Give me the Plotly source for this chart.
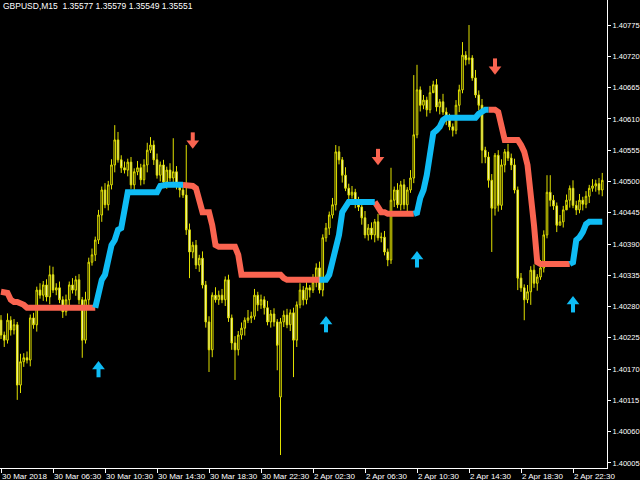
import plotly.graph_objects as go

bar_index = list(range(186))

open_ = [
1.40256,1.40230,1.40221,1.40256,1.40239,1.40248,1.40142,1.40183,1.40190,1.40186,
1.40260,1.40248,1.40309,1.40300,1.40318,1.40297,1.40336,1.40309,1.40313,1.40292,
1.40271,1.40292,1.40318,1.40309,1.40327,1.40292,1.40221,1.40292,1.40358,1.40371,
1.40397,1.40441,1.40485,1.40459,1.40494,1.40529,1.40573,1.40538,1.40524,1.40520,
1.40534,1.40494,1.40517,1.40524,1.40503,1.40529,1.40555,1.40564,1.40538,1.40511,
1.40529,1.40499,1.40520,1.40506,1.40517,1.40494,1.40485,1.40476,1.40415,1.40376,
1.40388,1.40353,1.40365,1.40318,1.40253,1.40204,1.40300,1.40292,1.40300,1.40292,
1.40327,1.40260,1.40216,1.40204,1.40230,1.40242,1.40256,1.40260,1.40263,1.40300,
1.40283,1.40292,1.40278,1.40253,1.40267,1.40253,1.40121,1.40253,1.40265,1.40248,
1.40269,1.40221,1.40283,1.40309,1.40292,1.40313,1.40309,1.40323,1.40348,1.40309,
1.40401,1.40418,1.40441,1.40459,1.40552,1.40538,1.40511,1.40488,1.40476,1.40481,
1.40464,1.40455,1.40436,1.40406,1.40418,1.40406,1.40429,1.40401,1.40402,1.40376,
1.40362,1.40467,1.40485,1.40459,1.40494,1.40459,1.40485,1.40506,1.40582,1.40661,
1.40634,1.40643,1.40626,1.40656,1.40670,1.40631,1.40640,1.40622,1.40608,1.40596,
1.40590,1.40634,1.40661,1.40722,1.40714,1.40717,1.40682,1.40652,1.40634,1.40555,
1.40543,1.40502,1.40453,1.40546,1.40458,1.40529,1.40552,1.40541,1.40529,1.40485,
1.40330,1.40313,1.40292,1.40306,1.40344,1.40321,1.40332,1.40348,1.40406,1.40481,
1.40467,1.40457,1.40423,1.40429,1.40450,1.40467,1.40488,1.40458,1.40450,1.40467,
1.40460,1.40474,1.40488,1.40492,1.40496,1.40485]

close = [
1.40230,1.40221,1.40256,1.40239,1.40248,1.40142,1.40183,1.40190,1.40186,1.40260,
1.40248,1.40309,1.40300,1.40318,1.40297,1.40336,1.40309,1.40313,1.40292,1.40271,
1.40292,1.40318,1.40309,1.40327,1.40292,1.40221,1.40292,1.40358,1.40371,1.40397,
1.40441,1.40485,1.40459,1.40494,1.40529,1.40573,1.40538,1.40524,1.40520,1.40534,
1.40494,1.40517,1.40524,1.40503,1.40529,1.40555,1.40564,1.40538,1.40511,1.40529,
1.40499,1.40520,1.40506,1.40517,1.40494,1.40485,1.40476,1.40415,1.40376,1.40388,
1.40353,1.40365,1.40318,1.40253,1.40204,1.40300,1.40292,1.40300,1.40292,1.40327,
1.40260,1.40216,1.40204,1.40230,1.40242,1.40256,1.40260,1.40263,1.40300,1.40283,
1.40292,1.40278,1.40253,1.40267,1.40253,1.40212,1.40253,1.40265,1.40248,1.40269,
1.40221,1.40283,1.40309,1.40292,1.40313,1.40309,1.40323,1.40348,1.40309,1.40401,
1.40418,1.40441,1.40459,1.40552,1.40538,1.40511,1.40488,1.40476,1.40481,1.40464,
1.40455,1.40436,1.40406,1.40418,1.40406,1.40429,1.40401,1.40402,1.40376,1.40362,
1.40467,1.40485,1.40459,1.40494,1.40459,1.40485,1.40506,1.40582,1.40661,1.40634,
1.40643,1.40626,1.40656,1.40670,1.40631,1.40640,1.40622,1.40608,1.40596,1.40590,
1.40634,1.40661,1.40722,1.40714,1.40717,1.40682,1.40652,1.40634,1.40555,1.40543,
1.40502,1.40453,1.40546,1.40458,1.40529,1.40552,1.40541,1.40529,1.40485,1.40330,
1.40313,1.40292,1.40306,1.40344,1.40321,1.40332,1.40348,1.40406,1.40481,1.40467,
1.40457,1.40423,1.40429,1.40450,1.40467,1.40488,1.40458,1.40450,1.40467,1.40460,
1.40474,1.40488,1.40492,1.40496,1.40485,1.40502]

high = [
1.40265,1.40236,1.40268,1.40263,1.40258,1.40253,1.40197,1.40198,1.40201,1.40266,
1.40269,1.40315,1.40321,1.40325,1.40328,1.40352,1.40350,1.40321,1.40324,1.40298,
1.40301,1.40324,1.40330,1.40334,1.40337,1.40297,1.40306,1.40366,1.40382,1.40403,
1.40450,1.40491,1.40497,1.40501,1.40539,1.40599,1.40587,1.40546,1.40535,1.40540,
1.40543,1.40523,1.40536,1.40531,1.40539,1.40568,1.40578,1.40572,1.40549,1.40535,
1.40538,1.40526,1.40532,1.40576,1.40527,1.40499,1.40499,1.40564,1.40426,1.40394,
1.40397,1.40371,1.40377,1.40325,1.40263,1.40305,1.40314,1.40308,1.40311,1.40333,
1.40336,1.40266,1.40228,1.40237,1.40252,1.40261,1.40274,1.40271,1.40311,1.40306,
1.40301,1.40298,1.40290,1.40274,1.40277,1.40258,1.40260,1.40273,1.40276,1.40275,
1.40278,1.40289,1.40321,1.40316,1.40323,1.40318,1.40337,1.40356,1.40359,1.40407,
1.40427,1.40447,1.40471,1.40564,1.40562,1.40543,1.40525,1.40496,1.40492,1.40487,
1.40473,1.40461,1.40448,1.40425,1.40428,1.40434,1.40443,1.40410,1.40413,1.40382,
1.40524,1.40491,1.40497,1.40501,1.40504,1.40490,1.40520,1.40687,1.40705,1.40667,
1.40652,1.40649,1.40668,1.40677,1.40680,1.40645,1.40654,1.40630,1.40619,1.40602,
1.40643,1.40670,1.40745,1.40729,1.40775,1.40722,1.40696,1.40660,1.40645,1.40561,
1.40552,1.40513,1.40550,1.40555,1.40539,1.40557,1.40566,1.40549,1.40540,1.40491,
1.40339,1.40319,1.40318,1.40351,1.40354,1.40337,1.40362,1.40414,1.40511,1.40511,
1.40476,1.40463,1.40441,1.40457,1.40477,1.40493,1.40502,1.40466,1.40478,1.40473,
1.40483,1.40494,1.40504,1.40503,1.40506,1.40515]

low = [
1.40223,1.40209,1.40215,1.40229,1.40231,1.40116,1.40128,1.40174,1.40180,1.40175,
1.40241,1.40236,1.40294,1.40290,1.40289,1.40284,1.40304,1.40300,1.40286,1.40260,
1.40264,1.40280,1.40303,1.40299,1.40284,1.40190,1.40215,1.40283,1.40352,1.40360,
1.40390,1.40429,1.40453,1.40449,1.40486,1.40516,1.40533,1.40515,1.40514,1.40509,
1.40487,1.40482,1.40511,1.40493,1.40495,1.40516,1.40550,1.40529,1.40505,1.40500,
1.40492,1.40487,1.40500,1.40496,1.40486,1.40472,1.40471,1.40406,1.40330,1.40365,
1.40346,1.40341,1.40312,1.40243,1.40165,1.40191,1.40287,1.40283,1.40286,1.40281,
1.40253,1.40204,1.40151,1.40194,1.40222,1.40229,1.40251,1.40251,1.40257,1.40272,
1.40276,1.40266,1.40247,1.40243,1.40245,1.40168,1.40019,1.40244,1.40242,1.40237,
1.40156,1.40209,1.40277,1.40282,1.40284,1.40296,1.40304,1.40314,1.40303,1.40298,
1.40394,1.40406,1.40435,1.40449,1.40530,1.40498,1.40483,1.40467,1.40470,1.40453,
1.40448,1.40424,1.40400,1.40396,1.40398,1.40393,1.40396,1.40393,1.40370,1.40351,
1.40355,1.40455,1.40453,1.40449,1.40451,1.40446,1.40480,1.40497,1.40576,1.40623,
1.40627,1.40614,1.40620,1.40660,1.40623,1.40618,1.40617,1.40599,1.40590,1.40579,
1.40583,1.40622,1.40655,1.40704,1.40706,1.40677,1.40647,1.40625,1.40532,1.40532,
1.40489,1.40376,1.40440,1.40447,1.40450,1.40516,1.40536,1.40520,1.40479,1.40309,
1.40306,1.40256,1.40286,1.40283,1.40313,1.40308,1.40327,1.40340,1.40400,1.40456,
1.40450,1.40411,1.40423,1.40419,1.40459,1.40454,1.40453,1.40441,1.40444,1.40449,
1.40453,1.40462,1.40482,1.40482,1.40477,1.40474]

indicator = (
    [1.40306, 1.40306, 1.40304, 1.40292, 1.40288, 1.40288, 1.40286, 1.40283]
    + [1.40278] * 22
    + [1.40309, 1.40327, 1.40336, 1.40362, 1.40388, 1.40397, 1.40415, 1.40418, 1.40450]
    + [1.40481] * 10
    + [1.40492]
    + [1.40494] * 9
    + [1.40492, 1.40488, 1.40467]
    + [1.40446] * 3
    + [1.40423, 1.40388]
    + [1.40385] * 6
    + [1.40371]
    + [1.40336] * 13
    + [1.40330]
    + [1.40327] * 13
    + [1.40336, 1.40358, 1.40379, 1.40406, 1.40446, 1.40458]
    + [1.40464] * 9
    + [1.40455, 1.40446, 1.40446]
    + [1.40443] * 9
    + [1.40445, 1.40471, 1.40485, 1.40511, 1.40546, 1.40585, 1.40590, 1.40596, 1.40608]
    + [1.40612] * 10
    + [1.40619, 1.40624]
    + [1.40626] * 4
    + [1.40622, 1.40599]
    + [1.40573] * 5
    + [1.40564, 1.40552, 1.40529, 1.40485, 1.40423, 1.40358]
    + [1.40355] * 10
    + [1.40358, 1.40397, 1.40402, 1.40411, 1.40425]
    + [1.40429] * 5
)

trend_runs = [("dn", 30), ("up", 27), ("dn", 42), ("up", 17),
              ("dn", 12), ("up", 23), ("dn", 25), ("up", 10)]

up_arrow_bar = [30, 100, 128, 176]
up_arrow_tip = [1.40181, 1.40260, 1.40374, 1.40295]
dn_arrow_bar = [59, 116, 152]
dn_arrow_tip = [1.40561, 1.40532, 1.40691]

tick_bars = [0, 16, 32, 48, 64, 80, 96, 112, 128, 144, 160, 176]
tick_labels = ["30 Mar 2018", "30 Mar 06:30", "30 Mar 10:30", "30 Mar 14:30",
               "30 Mar 18:30", "30 Mar 22:30", "2 Apr 02:30", "2 Apr 06:30",
               "2 Apr 10:30", "2 Apr 14:30", "2 Apr 18:30", "2 Apr 22:30"]
price_ticks = [1.40005, 1.40060, 1.40115, 1.40170, 1.40225, 1.40280, 1.40335,
               1.40390, 1.40445, 1.40500, 1.40555, 1.40610, 1.40665, 1.40720, 1.40775]

title_text = "GBPUSD,M15  1.35577 1.35579 1.35549 1.35551"

BLUE = "#0fbcf5"
RED = "#fa6450"
FONT = "Liberation Sans"

Y0, Y1 = 1.399962, 1.40819
PLOT_H = 468
PX = (Y1 - Y0) / PLOT_H  # price per pixel, for marker offsets

trend = []
for name, n in trend_runs:
    trend += [name] * n
N = len(bar_index)

def seg(kind):
    ys = []
    for i in range(N):
        if trend[i] == kind or (i + 1 < N and trend[i + 1] == kind):
            ys.append(indicator[i])
        else:
            ys.append(None)
    return ys

fig = go.Figure()
fig.add_trace(go.Candlestick(
    x=bar_index, open=open_, high=high, low=low, close=close,
    increasing=dict(line=dict(color="#e0e000", width=1), fillcolor="#000000"),
    decreasing=dict(line=dict(color="#e0e000", width=1), fillcolor="#fffff0"),
    whiskerwidth=0, hoverinfo="skip", showlegend=False))

fig.add_trace(go.Scatter(x=bar_index, y=seg("dn"), mode="lines",
                         line=dict(color=RED, width=6), connectgaps=False,
                         hoverinfo="skip", showlegend=False))
fig.add_trace(go.Scatter(x=bar_index, y=seg("up"), mode="lines",
                         line=dict(color=BLUE, width=6), connectgaps=False,
                         hoverinfo="skip", showlegend=False))

# arrows: head (triangle) + stem (short thick vertical line)
fig.add_trace(go.Scatter(
    x=up_arrow_bar, y=[p - 3.5 * PX for p in up_arrow_tip], mode="markers",
    marker=dict(symbol="triangle-up", size=11, color=BLUE, line=dict(width=0)),
    hoverinfo="skip", showlegend=False))
fig.add_trace(go.Scatter(
    x=up_arrow_bar, y=[p - 9.5 * PX for p in up_arrow_tip], mode="markers",
    marker=dict(symbol="line-ns", size=7, line=dict(width=4, color=BLUE)),
    hoverinfo="skip", showlegend=False))
fig.add_trace(go.Scatter(
    x=dn_arrow_bar, y=[p + 3.5 * PX for p in dn_arrow_tip], mode="markers",
    marker=dict(symbol="triangle-down", size=11, color=RED, line=dict(width=0)),
    hoverinfo="skip", showlegend=False))
fig.add_trace(go.Scatter(
    x=dn_arrow_bar, y=[p + 9.5 * PX for p in dn_arrow_tip], mode="markers",
    marker=dict(symbol="line-ns", size=7, line=dict(width=4, color=RED)),
    hoverinfo="skip", showlegend=False))

fig.add_annotation(x=0, y=1, xref="paper", yref="paper", xanchor="left",
                   yanchor="top", text=title_text, showarrow=False,
                   xshift=1, yshift=1,
                   font=dict(family=FONT, size=8.5, color="white"))

fig.update_layout(
    width=640, height=480,
    paper_bgcolor="black", plot_bgcolor="black",
    margin=dict(l=0, r=33, t=0, b=12),
    xaxis=dict(range=[-0.31, 186.46], tickvals=tick_bars, ticktext=tick_labels,
               ticks="outside", ticklen=4, tickcolor="white", showline=True,
               linecolor="white", linewidth=1, showgrid=False, zeroline=False,
               tickangle=0, automargin=False,
               tickfont=dict(family=FONT, size=8, color="white"),
               ticklabelposition="outside right",
               rangeslider=dict(visible=False), fixedrange=True),
    yaxis=dict(range=[Y0, Y1], side="right", tickvals=price_ticks,
               ticktext=[f"{v:.5f}" for v in price_ticks], automargin=False,
               ticks="outside", ticklen=3, tickcolor="white", showline=True,
               linecolor="white", linewidth=1, showgrid=False, zeroline=False,
               tickfont=dict(family=FONT, size=7.5, color="white"), fixedrange=True),
)

fig.write_html("out.html",
               config={"displayModeBar": False},
               post_script="document.body.style.margin='0px';"
                           "document.documentElement.style.background='black';")
